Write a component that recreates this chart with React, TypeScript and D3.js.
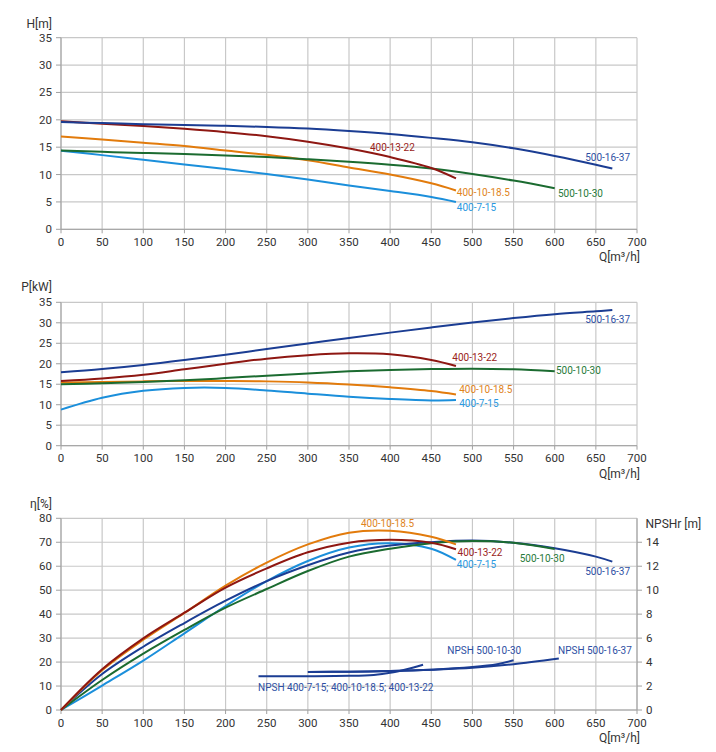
import React from 'react';
import * as d3 from 'd3';

// ---------- DATA ----------
const seriesNames = ['400-7-15', '400-10-18.5', '400-13-22', '500-10-30', '500-16-37'];
const seriesColors = ['#1b8fdb', '#e27b0c', '#8e1712', '#1b6b30', '#1b3d93'];
const labelColors = ['#2a98e0', '#e0841c', '#9a2320', '#277a3a', '#2e4fa3'];

const q400 = [0, 50, 100, 150, 200, 250, 300, 350, 400, 450, 480];
const q50010 = [0, 50, 100, 150, 200, 250, 300, 350, 400, 450, 500, 550, 600];
const q50016 = [0, 50, 100, 150, 200, 250, 300, 350, 400, 450, 500, 550, 600, 650, 670];

// Head H [m]
const H_400_7_15 = [14.35, 13.55, 12.7, 11.85, 11.0, 10.1, 9.1, 8.0, 7.0, 5.9, 5.0];
const H_400_10_18_5 = [16.95, 16.4, 15.8, 15.2, 14.4, 13.6, 12.6, 11.3, 10.0, 8.4, 7.1];
const H_400_13_22 = [19.75, 19.3, 18.85, 18.35, 17.75, 17.0, 16.0, 14.75, 13.2, 11.2, 9.3];
const H_500_10_30 = [14.4, 14.15, 13.95, 13.75, 13.5, 13.2, 12.8, 12.35, 11.8, 11.1, 10.1, 8.9, 7.5];
const H_500_16_37 = [19.6, 19.4, 19.2, 19.05, 18.9, 18.7, 18.4, 17.95, 17.4, 16.7, 15.9, 14.8, 13.4, 11.8, 11.1];

// Power P [kW]
const P_400_7_15 = [8.8, 11.7, 13.4, 14.1, 14.1, 13.5, 12.7, 11.95, 11.4, 11.05, 11.15];
const P_400_10_18_5 = [15.4, 15.55, 15.7, 15.8, 15.8, 15.7, 15.45, 14.95, 14.25, 13.35, 12.5];
const P_400_13_22 = [15.8, 16.4, 17.3, 18.65, 20.0, 21.25, 22.1, 22.55, 22.3, 20.9, 19.45];
const P_500_10_30 = [15.0, 15.25, 15.55, 15.95, 16.5, 17.1, 17.65, 18.15, 18.5, 18.7, 18.8, 18.65, 18.2];
const P_500_16_37 = [17.9, 18.7, 19.7, 20.9, 22.2, 23.6, 24.95, 26.3, 27.6, 28.85, 30.05, 31.15, 32.1, 32.8, 33.1];

// Efficiency eta [%]
const E_400_7_15 = [0, 10.2, 20.6, 32.0, 43.4, 53.8, 62.2, 67.8, 69.6, 67.3, 62.6];
const E_400_10_18_5 = [0, 16.6, 29.3, 40.5, 51.9, 61.5, 69.1, 74.0, 74.8, 72.3, 69.1];
const E_400_13_22 = [0, 17.0, 29.9, 40.6, 51.1, 59.1, 65.8, 69.8, 71.0, 69.8, 67.1];
const E_500_10_30 = [0, 12.5, 23.5, 33.4, 42.7, 50.5, 58.0, 64.0, 67.3, 69.6, 70.5, 69.8, 67.2];
const E_500_16_37 = [0, 15.0, 26.4, 36.3, 45.6, 53.8, 60.4, 65.7, 68.6, 70.0, 70.7, 69.8, 67.5, 64.0, 61.9];

// NPSHr [m]
const npshNames = ['NPSH 400-7-15; 400-10-18.5; 400-13-22', 'NPSH 500-10-30', 'NPSH 500-16-37'];
const qNpsh400 = [240, 300, 350, 380, 400, 420, 440];
const N_400 = [2.82, 2.82, 2.85, 2.93, 3.1, 3.4, 3.78];
const qNpsh50010 = [300, 350, 400, 450, 500, 530, 550];
const N_500_10_30 = [3.17, 3.2, 3.25, 3.36, 3.58, 3.82, 4.15];
const qNpsh50016 = [300, 350, 400, 450, 500, 550, 605];
const N_500_16_37 = [3.17, 3.2, 3.25, 3.36, 3.52, 3.82, 4.3];

// Ticks
const qTicks = d3.range(0, 701, 50);
const hTicks = d3.range(0, 36, 5);
const pTicks = d3.range(0, 36, 5);
const eTicks = d3.range(0, 81, 10);
const nTicks = d3.range(0, 15, 2);

// ---------- LAYOUT ----------
const W = 716;
const HH = 752;
const left = 61;
const right = 637;
const font = 'Roboto, "Noto Sans", sans-serif';
const gridColor = '#c8c8c8';
const axisColor = '#a0a0a0';
const textColor = '#333';

const x = d3.scaleLinear().domain([0, 700]).range([left, right]);

const panels = [
  { top: 37.7, bottom: 229.3 },
  { top: 302.3, bottom: 445.7 },
  { top: 518.3, bottom: 710 },
];

const yH = d3.scaleLinear().domain([0, 35]).range([panels[0].bottom, panels[0].top]);
const yP = d3.scaleLinear().domain([0, 35]).range([panels[1].bottom, panels[1].top]);
const yE = d3.scaleLinear().domain([0, 80]).range([panels[2].bottom, panels[2].top]);
const yN = d3.scaleLinear().domain([0, 16]).range([panels[2].bottom, panels[2].top]);

type Lbl = { text: string; q: number; v: number; color: string; yScale?: d3.ScaleLinear<number, number> };
type Ln = { qs: number[]; vs: number[]; color: string; yScale?: d3.ScaleLinear<number, number> };

function makePath(qs: number[], vs: number[], y: d3.ScaleLinear<number, number>) {
  const gen = d3
    .line<number>()
    .x((_, i) => x(qs[i]))
    .y((d) => y(d))
    .curve(d3.curveCatmullRom.alpha(0.5));
  return gen(vs) || '';
}

function Panel({
  y,
  ticks,
  yTitle,
  titleY,
  qTitleY,
  lines,
  labels,
}: {
  y: d3.ScaleLinear<number, number>;
  ticks: number[];
  yTitle: string;
  titleY: number;
  qTitleY: number;
  lines: Ln[];
  labels: Lbl[];
}) {
  const [y0, y1] = y.range();
  return (
    <g>
      {qTicks.map((t) => (
        <line key={'vx' + t} x1={x(t)} x2={x(t)} y1={y1} y2={y0} stroke={gridColor} strokeWidth={1.2} />
      ))}
      {ticks.map((t) => (
        <line key={'hy' + t} x1={left} x2={right} y1={y(t)} y2={y(t)} stroke={gridColor} strokeWidth={1.2} />
      ))}
      <line x1={left} x2={left} y1={y1} y2={y0} stroke={axisColor} strokeWidth={1} />
      <line x1={left} x2={right} y1={y0} y2={y0} stroke={axisColor} strokeWidth={1} />
      {ticks.map((t) => (
        <g key={'yt' + t}>
          <line x1={left - 5} x2={left} y1={y(t)} y2={y(t)} stroke={axisColor} />
          <text x={left - 9} y={y(t)} dy="0.35em" textAnchor="end" fontSize={11.5} fill={textColor} fontFamily={font}>
            {t}
          </text>
        </g>
      ))}
      {qTicks.map((t) => (
        <g key={'xt' + t}>
          <line x1={x(t)} x2={x(t)} y1={y0} y2={y0 + 4} stroke={axisColor} />
          <text x={x(t)} y={y0 + 12.5} dy="0.35em" textAnchor="middle" fontSize={11.5} fill={textColor} fontFamily={font}>
            {t}
          </text>
        </g>
      ))}
      <text x={52} y={titleY} textAnchor="end" fontSize={12} fill={textColor} fontFamily={font}>
        {yTitle}
      </text>
      <text x={640} y={qTitleY} textAnchor="end" fontSize={12} fill={textColor} fontFamily={font}>
        Q[m³/h]
      </text>
      {lines.map((l, i) => (
        <path key={'p' + i} d={makePath(l.qs, l.vs, l.yScale || y)} fill="none" stroke={l.color} strokeWidth={2} strokeLinejoin="round" />
      ))}
      {labels.map((l, i) => (
        <text key={'l' + i} x={x(l.q)} y={(l.yScale || y)(l.v)} dy="0.35em" fontSize={10} fill={l.color} fontFamily={font}>
          {l.text}
        </text>
      ))}
    </g>
  );
}

export default function App() {
  const hLines: Ln[] = [
    { qs: q400, vs: H_400_7_15, color: seriesColors[0] },
    { qs: q400, vs: H_400_10_18_5, color: seriesColors[1] },
    { qs: q50010, vs: H_500_10_30, color: seriesColors[3] },
    { qs: q400, vs: H_400_13_22, color: seriesColors[2] },
    { qs: q50016, vs: H_500_16_37, color: seriesColors[4] },
  ];
  const hLabels: Lbl[] = [
    { text: seriesNames[2], q: 375.5, v: 15.0, color: labelColors[2] },
    { text: seriesNames[4], q: 637, v: 13.2, color: labelColors[4] },
    { text: seriesNames[1], q: 481, v: 6.8, color: labelColors[1] },
    { text: seriesNames[3], q: 604, v: 6.55, color: labelColors[3] },
    { text: seriesNames[0], q: 481, v: 4.0, color: labelColors[0] },
  ];
  const pLines: Ln[] = [
    { qs: q400, vs: P_400_7_15, color: seriesColors[0] },
    { qs: q400, vs: P_400_10_18_5, color: seriesColors[1] },
    { qs: q50010, vs: P_500_10_30, color: seriesColors[3] },
    { qs: q400, vs: P_400_13_22, color: seriesColors[2] },
    { qs: q50016, vs: P_500_16_37, color: seriesColors[4] },
  ];
  const pLabels: Lbl[] = [
    { text: seriesNames[4], q: 637, v: 30.9, color: labelColors[4] },
    { text: seriesNames[2], q: 475.5, v: 21.6, color: labelColors[2] },
    { text: seriesNames[3], q: 601.5, v: 18.3, color: labelColors[3] },
    { text: seriesNames[1], q: 484, v: 13.75, color: labelColors[1] },
    { text: seriesNames[0], q: 484, v: 10.3, color: labelColors[0] },
  ];
  const eLines: Ln[] = [
    { qs: q400, vs: E_400_7_15, color: seriesColors[0] },
    { qs: q50016, vs: E_500_16_37, color: seriesColors[4] },
    { qs: q50010, vs: E_500_10_30, color: seriesColors[3] },
    { qs: q400, vs: E_400_10_18_5, color: seriesColors[1] },
    { qs: q400, vs: E_400_13_22, color: seriesColors[2] },
    { qs: qNpsh400, vs: N_400, color: seriesColors[4], yScale: yN },
    { qs: qNpsh50010, vs: N_500_10_30, color: seriesColors[4], yScale: yN },
    { qs: qNpsh50016, vs: N_500_16_37, color: seriesColors[4], yScale: yN },
  ];
  const eLabels: Lbl[] = [
    { text: seriesNames[1], q: 364.5, v: 77.9, color: labelColors[1] },
    { text: seriesNames[2], q: 482, v: 65.8, color: labelColors[2] },
    { text: seriesNames[0], q: 481, v: 60.9, color: labelColors[0] },
    { text: seriesNames[3], q: 557.5, v: 63.3, color: labelColors[3] },
    { text: seriesNames[4], q: 637, v: 58.0, color: labelColors[4] },
    { text: npshNames[1], q: 469.5, v: 24.7, color: labelColors[4] },
    { text: npshNames[2], q: 604, v: 24.7, color: labelColors[4] },
    { text: npshNames[0], q: 239.5, v: 9.5, color: labelColors[4] },
  ];

  return (
    <svg
      width={W}
      height={HH}
      viewBox={`0 0 ${W} ${HH}`}
      style={{ position: 'absolute', left: 0, top: 0, background: '#fff' }}
    >
      <rect x={0} y={0} width={W} height={HH} fill="#fff" />
      <Panel y={yH} ticks={hTicks} yTitle="H[m]" titleY={28.3} qTitleY={261} lines={hLines} labels={hLabels} />
      <Panel y={yP} ticks={pTicks} yTitle="P[kW]" titleY={291} qTitleY={478} lines={pLines} labels={pLabels} />
      <Panel y={yE} ticks={eTicks} yTitle="η[%]" titleY={508} qTitleY={742} lines={eLines} labels={eLabels} />
      <g>
        <line x1={right} x2={right} y1={yN.range()[1]} y2={yN.range()[0]} stroke={axisColor} />
        {nTicks.map((t) => (
          <g key={'nt' + t}>
            <line x1={right} x2={right + 5} y1={yN(t)} y2={yN(t)} stroke={axisColor} />
            <text x={right + 9} y={yN(t)} dy="0.35em" fontSize={11.5} fill={textColor} fontFamily={font}>
              {t}
            </text>
          </g>
        ))}
        <text x={645.5} y={528} fontSize={12} fill={textColor} fontFamily={font}>
          NPSHr [m]
        </text>
      </g>
    </svg>
  );
}
